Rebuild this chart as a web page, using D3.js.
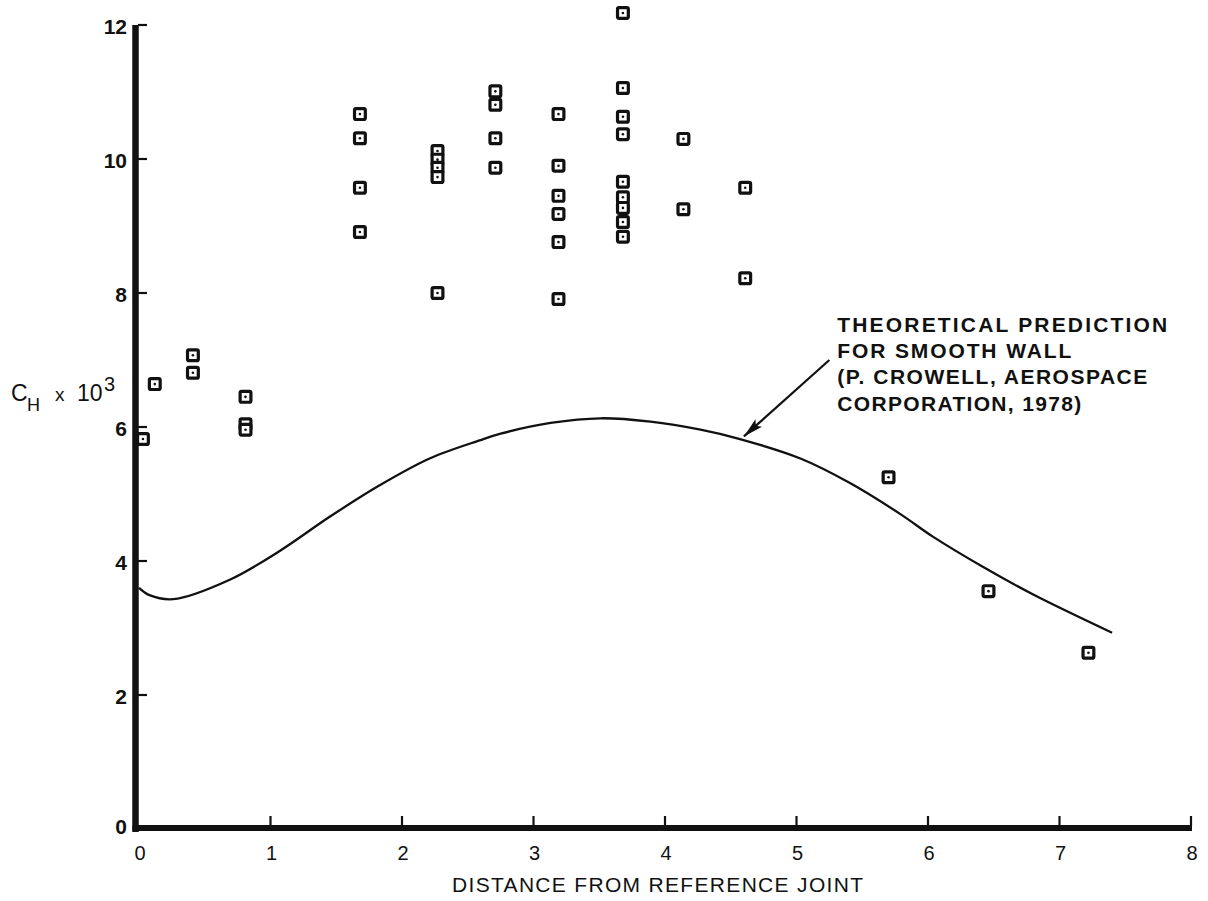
<!DOCTYPE html>
<html>
<head>
<meta charset="utf-8">
<script src="https://cdn.jsdelivr.net/npm/d3@7/dist/d3.min.js"></script>
<style>
  html, body { margin: 0; padding: 0; background: #fff; }
  svg { display: block; }
  text { font-family: "Liberation Sans", Arial, Helvetica, sans-serif; fill: #111; }
</style>
</head>
<body>
<svg id="chart" width="1208" height="901"></svg>
<script>
// Measured Stanton number C_H (x 10^3) against distance from the reference joint
const measuredDistance = [
  0.03,
  0.12,
  0.41, 0.41,
  0.81, 0.81, 0.81,
  1.68, 1.68, 1.68, 1.68,
  2.27, 2.27, 2.27, 2.27, 2.27,
  2.71, 2.71, 2.71, 2.71,
  3.19, 3.19, 3.19, 3.19, 3.19, 3.19,
  3.68, 3.68, 3.68, 3.68, 3.68, 3.68, 3.68, 3.68, 3.68,
  4.14, 4.14,
  4.61, 4.61,
  5.70,
  6.46,
  7.22
];
const measuredCH = [
  5.82,
  6.64,
  7.07, 6.81,
  6.45, 6.04, 5.96,
  10.67, 10.31, 9.57, 8.91,
  10.12, 9.99, 9.87, 9.73, 8.00,
  11.01, 10.81, 10.31, 9.87,
  10.67, 9.90, 9.45, 9.18, 8.76, 7.91,
  12.18, 11.06, 10.63, 10.37, 9.66, 9.43, 9.27, 9.06, 8.84,
  10.30, 9.25,
  9.57, 8.22,
  5.25,
  3.55,
  2.63
];

// Smooth-wall theoretical prediction
const theoryDistance = [0.00, 0.08, 0.26, 0.69, 1.07, 1.45, 1.83, 2.21, 2.59, 2.75, 3.13, 3.51, 3.89, 4.27, 4.57, 5.03, 5.41, 5.79, 6.04, 6.42, 6.80, 7.40];
const theoryCH       = [3.60, 3.49, 3.43, 3.72, 4.15, 4.66, 5.13, 5.53, 5.80, 5.90, 6.06, 6.13, 6.08, 5.96, 5.82, 5.53, 5.16, 4.70, 4.36, 3.91, 3.50, 2.93];

// Axis ticks
const xTickValues = [0, 1, 2, 3, 4, 5, 6, 7, 8];
const yTickValues = [0, 2, 4, 6, 8, 10, 12];

// Annotation text and where its arrow sits (data units)
const noteLines = [
  "THEORETICAL PREDICTION",
  "FOR SMOOTH WALL",
  "(P. CROWELL, AEROSPACE",
  "CORPORATION, 1978)"
];
const noteLineWidths = [330, 234, 310, 244];
const noteAnchor = { x: 5.31, y: 7.42 };
const arrowFrom = { x: 5.25, y: 7.00 };
const arrowTo = { x: 4.60, y: 5.86 };

const xAxisTitle = "DISTANCE FROM REFERENCE JOINT";

const svg = d3.select("#chart");

const x = d3.scaleLinear().domain([0, 8]).range([139, 1191]);
const y = d3.scaleLinear().domain([0, 12]).range([829, 25]);

// ---- axes ----
const axes = svg.append("g");

// thick vertical axis
axes.append("line")
  .attr("x1", x(0) - 3.5).attr("x2", x(0) - 3.5)
  .attr("y1", y(12)).attr("y2", y(0) + 3)
  .attr("stroke", "#111").attr("stroke-width", 6.5);

// thick horizontal axis
axes.append("line")
  .attr("x1", x(0) - 6.5).attr("x2", x(8) + 1)
  .attr("y1", y(0) - 1).attr("y2", y(0) - 1)
  .attr("stroke", "#111").attr("stroke-width", 6);

// y ticks point into the plot
axes.selectAll(".ytick").data(yTickValues.filter(d => d > 0)).join("line")
  .attr("class", "ytick")
  .attr("x1", x(0) - 1).attr("x2", x(0) + 8)
  .attr("y1", d => y(d)).attr("y2", d => y(d))
  .attr("stroke", "#111").attr("stroke-width", 2.2);

// x ticks point up
axes.selectAll(".xtick").data(xTickValues.filter(d => d > 0)).join("line")
  .attr("class", "xtick")
  .attr("x1", d => x(d)).attr("x2", d => x(d))
  .attr("y1", y(0) - 3).attr("y2", y(0) - 13)
  .attr("stroke", "#111").attr("stroke-width", 2.2);

axes.selectAll(".ylabel").data(yTickValues).join("text")
  .attr("class", "ylabel")
  .attr("x", 127)
  .attr("y", d => y(d) + (d === 0 ? -3 : 1))
  .attr("text-anchor", "end")
  .attr("dominant-baseline", "central")
  .attr("font-size", 21)
  .attr("font-weight", "bold")
  .text(d => d);

axes.selectAll(".xlabel").data(xTickValues).join("text")
  .attr("class", "xlabel")
  .attr("x", d => x(d) + 1)
  .attr("y", 860)
  .attr("text-anchor", "middle")
  .attr("font-size", 20)
  .text(d => d);

// axis titles
svg.append("text")
  .attr("x", 452)
  .attr("y", 892)
  .attr("font-size", 21)
  .attr("textLength", 411)
  .attr("lengthAdjust", "spacing")
  .text(xAxisTitle);

const yTitle = svg.append("text").attr("font-size", 23);
yTitle.append("tspan").attr("x", 11).attr("y", 401).text("C");
yTitle.append("tspan").attr("x", 27).attr("y", 411).attr("font-size", 18).text("H");
yTitle.append("tspan").attr("x", 55).attr("y", 401).attr("font-size", 19).text("x");
yTitle.append("tspan").attr("x", 77).attr("y", 401).text("10");
yTitle.append("tspan").attr("x", 104).attr("y", 391).attr("font-size", 20).text("3");

// ---- theoretical curve ----
const curvePts = theoryDistance.map((d, i) => [d, theoryCH[i]]);
svg.append("path")
  .datum(curvePts)
  .attr("fill", "none")
  .attr("stroke", "#111")
  .attr("stroke-width", 2.3)
  .attr("stroke-linejoin", "round")
  .attr("d", d3.line().x(d => x(d[0])).y(d => y(d[1])).curve(d3.curveCatmullRom.alpha(0.5)));

// ---- measured points ----
const pts = measuredDistance.map((d, i) => [d, measuredCH[i]]);
const marks = svg.append("g").selectAll("g").data(pts).join("g")
  .attr("transform", d => `translate(${x(d[0])},${y(d[1])})`);
marks.append("rect")
  .attr("x", -5.4).attr("y", -5.4)
  .attr("width", 10.8).attr("height", 10.8)
  .attr("rx", 1.5)
  .attr("fill", "#fff")
  .attr("stroke", "#111")
  .attr("stroke-width", 3.2);
marks.append("circle")
  .attr("r", 1.3)
  .attr("fill", "#111");

// ---- annotation ----
const defs = svg.append("defs");
defs.append("marker")
  .attr("id", "arrowhead")
  .attr("viewBox", "0 0 20 10")
  .attr("refX", 20).attr("refY", 5)
  .attr("markerWidth", 20).attr("markerHeight", 10)
  .attr("markerUnits", "userSpaceOnUse")
  .attr("orient", "auto")
  .append("path")
  .attr("d", "M0,0 L20,5 L0,10 L4,5 Z")
  .attr("fill", "#111");

svg.append("line")
  .attr("x1", x(arrowFrom.x)).attr("y1", y(arrowFrom.y))
  .attr("x2", x(arrowTo.x)).attr("y2", y(arrowTo.y))
  .attr("stroke", "#111").attr("stroke-width", 2.2)
  .attr("marker-end", "url(#arrowhead)");

svg.append("g").selectAll("text").data(noteLines).join("text")
  .attr("x", x(noteAnchor.x))
  .attr("y", (d, i) => y(noteAnchor.y) + i * 26.3)
  .attr("font-size", 21)
  .attr("font-weight", "bold")
  .attr("textLength", (d, i) => noteLineWidths[i])
  .attr("lengthAdjust", "spacing")
  .text(d => d);
</script>
</body>
</html>
